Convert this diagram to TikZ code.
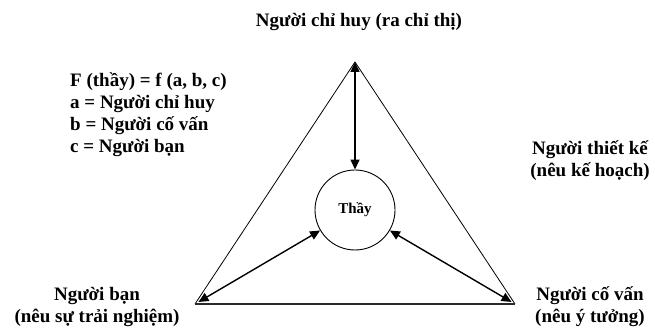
\documentclass[tikz,border=0pt]{standalone}
\usepackage{fontspec}
\setmainfont{Liberation Serif}
\usetikzlibrary{arrows.meta,positioning}
\definecolor{inkc}{HTML}{000000}
\definecolor{basec}{HTML}{2B2B2B}
\tikzset{
  lbl/.style={font=\fontsize{19}{22}\selectfont\bfseries,align=center,inner sep=0pt},
  dar/.style={{Triangle[length=10pt,width=9pt]}-{Triangle[length=10pt,width=9pt]},line width=1.4pt,inkc},
  side/.style={line width=0.8pt,inkc}
}

\begin{document}
\begin{tikzpicture}[x=1pt,y=-1pt]
\useasboundingbox (0,0) rectangle (655,328);
% triangle
\coordinate (top) at (355,62);
\coordinate (lv) at (195,304);
\coordinate (rv) at (515,304);
\draw[side] (lv) -- (top) -- (rv);
\draw[line width=1.6pt,basec] (lv) -- (rv);
\node[circle,draw,line width=0.9pt,minimum size=80pt,inner sep=0pt,font=\fontsize{15}{17}\selectfont\bfseries] (thay) at (355,210) {Thầy};
\draw[dar] (top) -- (thay);
\draw[dar,shorten <=4pt] (lv) -- (thay);
\draw[dar,shorten <=4pt] (rv) -- (thay);
% labels
\node[lbl] (chihuy) at (359,22) {Người chỉ huy (ra chỉ thị)};
\node[lbl,align=left,anchor=north west] (congthuc) at (70,72) {F (thầy) = f (a, b, c)\\a = Người chỉ huy\\b = Người cố vấn\\c = Người bạn};
\node[lbl] (thietke) at (590,161) {Người thiết kế\\(nêu kế hoạch)};
\node[lbl] (ban) at (97,307) {Người bạn\\(nêu sự trải nghiệm)};
\node[lbl] (covan) at (590,307) {Người cố vấn\\(nêu ý tưởng)};
\end{tikzpicture}
\end{document}
